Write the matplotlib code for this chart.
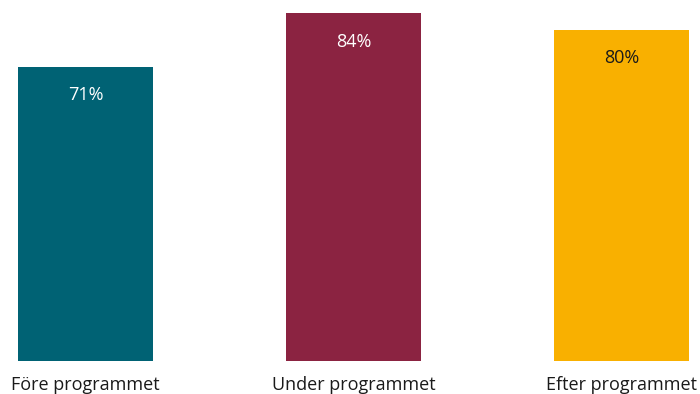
import matplotlib
matplotlib.use("Agg")
import matplotlib.pyplot as plt

categories = ["Före programmet", "Under programmet", "Efter programmet"]
values = [71, 84, 80]
colors = ["#006274", "#8B2341", "#F9B000"]
text_colors = ["#FFFFFF", "#FFFFFF", "#1A1A1A"]

plt.rcParams["font.family"] = ["Open Sans", "DejaVu Sans"]

fig = plt.figure(figsize=(7, 3.94), dpi=100)
ax = fig.add_axes([0, 33 / 394, 1, 361 / 394])

x = range(len(categories))
ax.bar(x, values, width=0.504, color=colors)

for i, v in enumerate(values):
    ax.annotate(f"{v}%", (i, v), xytext=(0, -20.5), textcoords="offset points",
                ha="center", va="center", fontsize=13, color=text_colors[i])

ax.set_xlim(-85.5 / 268, (700 - 85.5) / 268)
ax.set_ylim(0, 361 / 4.142)
ax.set_xticks(list(x))
ax.set_xticklabels(categories, fontsize=13, color="#1A1A1A")
ax.tick_params(axis="x", length=0, pad=11)
ax.set_yticks([])
for s in ax.spines.values():
    s.set_visible(False)

fig.savefig("out.png", dpi=100)
